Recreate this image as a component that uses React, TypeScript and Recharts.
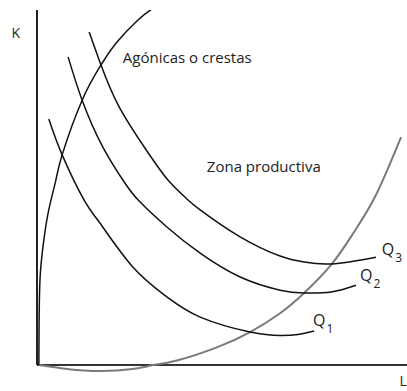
import { ComposedChart, Line, XAxis, YAxis, ReferenceLine, ReferenceDot } from 'recharts'

interface Pt { L: number; K: number }

// cresta superior (negra)
const ridgeUpper: Pt[] = [
  { L: 0.5, K: 0 }, { L: 0.55, K: 9.9 }, { L: 0.8, K: 23.9 }, { L: 1.6, K: 33.2 },
  { L: 3.0, K: 42.8 }, { L: 5.1, K: 52.1 }, { L: 6.8, K: 59.2 }, { L: 12.2, K: 74.6 },
  { L: 17.3, K: 84.5 }, { L: 21.4, K: 90.7 }, { L: 27.3, K: 97.2 }, { L: 31.1, K: 100.3 },
]

// cresta inferior (gris)
const ridgeLower: Pt[] = [
  { L: 0.5, K: 0 }, { L: 8.1, K: -1.1 }, { L: 17.0, K: -1.7 }, { L: 25.9, K: -1.1 },
  { L: 31.4, K: 0 }, { L: 37.8, K: 1.3 }, { L: 48.6, K: 5.0 }, { L: 57.6, K: 9.3 },
  { L: 65.7, K: 14.6 }, { L: 72.2, K: 20.3 }, { L: 79.7, K: 28.5 }, { L: 85.7, K: 37.5 },
  { L: 91.6, K: 47.9 }, { L: 98.4, K: 64.2 },
]

const q1: Pt[] = [
  { L: 3.2, K: 69.3 }, { L: 6.8, K: 59.2 }, { L: 12.7, K: 46.5 }, { L: 17.0, K: 40.0 },
  { L: 25.9, K: 27.6 }, { L: 35.1, K: 19.2 }, { L: 44.1, K: 13.5 }, { L: 57.6, K: 9.3 },
  { L: 65.7, K: 8.3 }, { L: 70.5, K: 8.6 }, { L: 74.9, K: 9.6 },
]

const q2: Pt[] = [
  { L: 8.4, K: 86.8 }, { L: 12.2, K: 74.6 }, { L: 17.8, K: 61.4 }, { L: 23.8, K: 51.2 },
  { L: 27.6, K: 46.2 }, { L: 35.1, K: 38.9 }, { L: 44.1, K: 31.5 }, { L: 54.9, K: 24.8 },
  { L: 65.7, K: 21.1 }, { L: 72.2, K: 20.3 }, { L: 79.5, K: 20.6 }, { L: 86.2, K: 22.5 },
]

const q3: Pt[] = [
  { L: 14.1, K: 93.8 }, { L: 17.3, K: 84.5 }, { L: 22.2, K: 72.7 }, { L: 29.5, K: 60.6 },
  { L: 35.4, K: 52.1 }, { L: 40.3, K: 47.0 }, { L: 44.1, K: 43.7 }, { L: 54.9, K: 36.1 },
  { L: 65.7, K: 30.7 }, { L: 72.2, K: 29.0 }, { L: 79.7, K: 28.5 }, { L: 91.6, K: 30.4 },
]

const textLabels = [
  { text: 'Agónicas o crestas', L: 23.2, K: 85.1, size: 15 },
  { text: 'Zona productiva', L: 45.9, K: 54.4, size: 15 },
  { text: 'K', L: -6.9, K: 92.1, size: 14 },
  { text: 'L', L: 98.0, K: -6.0, size: 14 },
]

const qLabels = [
  { name: 'Q', sub: '1', L: 74.6, K: 11.0 },
  { name: 'Q', sub: '2', L: 87.3, K: 23.7 },
  { name: 'Q', sub: '3', L: 93.2, K: 31.0 },
]

const FONT = '"Open Sans", "Noto Sans", sans-serif'
const INK = '#111111'
const GREY = '#7a7a7a'

const PlainText = (text: string, size: number) => (props: any) => {
  const vb = props.viewBox || {}
  return (
    <text x={vb.x} y={vb.y} fontFamily={FONT} fontSize={size} fill="#222" textAnchor="start">
      {text}
    </text>
  )
}

const QText = (name: string, sub: string) => (props: any) => {
  const vb = props.viewBox || {}
  return (
    <text x={vb.x} y={vb.y} fontFamily={FONT} fontSize={16} fill="#222" textAnchor="start">
      {name}
      <tspan dx={1} dy={7} fontSize={12}>{sub}</tspan>
    </text>
  )
}

export default function App() {
  return (
    <div style={{ position: 'absolute', left: 0, top: 0, background: '#fff' }}>
      <ComposedChart width={407} height={391} margin={{ top: 10, right: 0, bottom: 0, left: 0 }}>
        <XAxis dataKey="L" type="number" domain={[-10, 100]} hide allowDataOverflow />
        <YAxis dataKey="K" type="number" domain={[-7.3, 100]} hide allowDataOverflow />
        <ReferenceLine segment={[{ x: 0, y: 0 }, { x: 100, y: 0 }]} stroke="#333" strokeWidth={2} ifOverflow="visible" />
        <ReferenceLine segment={[{ x: 0, y: 0 }, { x: 0, y: 100 }]} stroke="#222" strokeWidth={2} ifOverflow="visible" />
        <Line data={ridgeLower} dataKey="K" type="natural" stroke={GREY} strokeWidth={2} dot={false} isAnimationActive={false} />
        <Line data={ridgeUpper} dataKey="K" type="natural" stroke={INK} strokeWidth={1.5} dot={false} isAnimationActive={false} />
        <Line data={q1} dataKey="K" type="natural" stroke={INK} strokeWidth={1.5} dot={false} isAnimationActive={false} />
        <Line data={q2} dataKey="K" type="natural" stroke={INK} strokeWidth={1.5} dot={false} isAnimationActive={false} />
        <Line data={q3} dataKey="K" type="natural" stroke={INK} strokeWidth={1.5} dot={false} isAnimationActive={false} />
        {textLabels.map((t) => (
          <ReferenceDot key={t.text} x={t.L} y={t.K} r={0} fill="none" stroke="none" ifOverflow="visible"
            label={{ content: PlainText(t.text, t.size) }} />
        ))}
        {qLabels.map((q) => (
          <ReferenceDot key={q.sub} x={q.L} y={q.K} r={0} fill="none" stroke="none" ifOverflow="visible"
            label={{ content: QText(q.name, q.sub) }} />
        ))}
      </ComposedChart>
    </div>
  )
}
